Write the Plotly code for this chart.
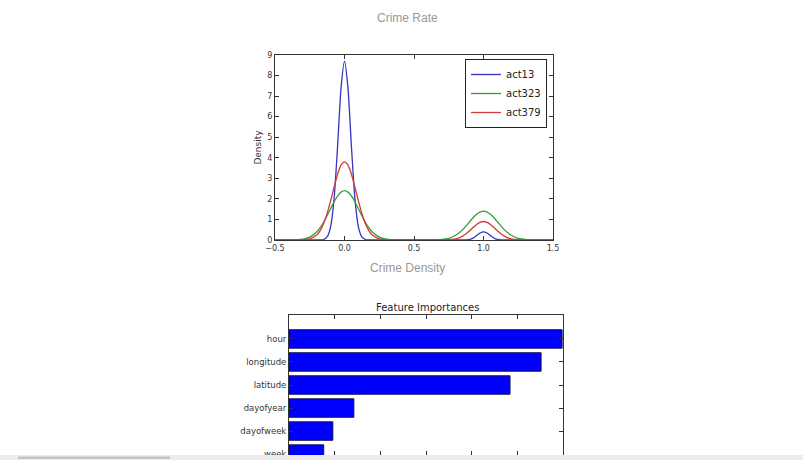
import plotly.graph_objects as go

W, H = 803, 460

# ---- Data: KDE curves ----
kde_x = [-0.5, -0.4, -0.35, -0.3, -0.25, -0.2, -0.175, -0.15, -0.125, -0.1, -0.075, -0.05, -0.025,
         0.0, 0.025, 0.05, 0.075, 0.1, 0.125, 0.15, 0.175, 0.2, 0.25, 0.3, 0.35, 0.4, 0.5,
         0.6, 0.65, 0.7, 0.75, 0.8, 0.825, 0.85, 0.875, 0.9, 0.925, 0.95, 0.975,
         1.0, 1.025, 1.05, 1.075, 1.1, 1.125, 1.15, 1.175, 1.2, 1.25, 1.3, 1.35, 1.4, 1.5]

act13 = [0, 0, 0, 0, 0, 0, 0.003, 0.025, 0.15, 0.64, 2.01, 4.53, 7.39,
         8.7, 7.39, 4.53, 2.01, 0.64, 0.15, 0.025, 0.003, 0, 0, 0, 0, 0, 0,
         0, 0, 0, 0, 0, 0, 0.001, 0.007, 0.03, 0.092, 0.21, 0.34,
         0.4, 0.34, 0.21, 0.092, 0.03, 0.007, 0.001, 0, 0, 0, 0, 0, 0, 0]

act323 = [0, 0.002, 0.009, 0.041, 0.141, 0.391, 0.60, 0.865, 1.18, 1.52, 1.86, 2.14, 2.33,
          2.4, 2.33, 2.14, 1.86, 1.52, 1.18, 0.865, 0.60, 0.391, 0.141, 0.041, 0.009, 0.002, 0,
          0.001, 0.005, 0.024, 0.082, 0.228, 0.35, 0.505, 0.69, 0.89, 1.085, 1.25, 1.36,
          1.4, 1.36, 1.25, 1.085, 0.89, 0.69, 0.505, 0.35, 0.228, 0.082, 0.024, 0.005, 0.001, 0]

act379 = [0, 0, 0.001, 0.0075, 0.05, 0.239, 0.456, 0.80, 1.29, 1.90, 2.57, 3.20, 3.64,
          3.8, 3.64, 3.20, 2.57, 1.90, 1.29, 0.80, 0.456, 0.239, 0.05, 0.0075, 0.001, 0, 0,
          0, 0, 0.002, 0.012, 0.057, 0.108, 0.19, 0.305, 0.45, 0.61, 0.757, 0.86,
          0.9, 0.86, 0.757, 0.61, 0.45, 0.305, 0.19, 0.108, 0.057, 0.012, 0.002, 0, 0, 0]

kde_series = ["act13", "act323", "act379"]
kde_colors = ["#3535c0", "#3a9a3a", "#cc3a3a"]

density_ticks = [0, 1, 2, 3, 4, 5, 6, 7, 8, 9]
crime_ticks = [-0.5, 0.0, 0.5, 1.0, 1.5]

# ---- Data: feature importances ----
features = ["hour", "longitude", "latitude", "dayofyear", "dayofweek", "week"]
importances = [0.299, 0.276, 0.242, 0.071, 0.048, 0.038]
imp_ticks = [0, 0.05, 0.1, 0.15, 0.2, 0.25, 0.3]


def px_x(p):
    return p / W


def px_y(p):
    return 1 - p / H


fig = go.Figure()

for name, ys, col in zip(kde_series, [act13, act323, act379], kde_colors):
    fig.add_trace(go.Scatter(x=kde_x, y=ys, mode="lines", name=name,
                             line=dict(color=col, width=1.3, shape="spline", smoothing=0.6),
                             xaxis="x", yaxis="y"))

fig.add_trace(go.Bar(x=importances, y=features, orientation="h", width=0.8,
                     marker=dict(color="#0000ff", line=dict(color="#101050", width=1)),
                     showlegend=False, xaxis="x2", yaxis="y2"))

tickfont = dict(family="DejaVu Sans", size=8, color="#333")
axis_common = dict(showgrid=False, zeroline=False, showline=True, linecolor="#333", linewidth=1,
                   mirror="ticks", ticks="inside", ticklen=4, tickcolor="#333", tickfont=tickfont,
                   automargin=False)

fig.update_layout(
    width=W, height=H,
    margin=dict(l=0, r=0, t=0, b=0, pad=0),
    paper_bgcolor="white", plot_bgcolor="white",
    xaxis=dict(domain=[px_x(275), px_x(553)], range=[-0.5, 1.5], tickvals=crime_ticks,
               tickformat=".1f", anchor="y", **axis_common),
    yaxis=dict(domain=[px_y(240), px_y(55)], range=[0, 9], tickvals=density_ticks,
               anchor="x", title=dict(text="Density", font=dict(family="DejaVu Sans", size=9, color="#333"),
                                      standoff=4), **axis_common),
    xaxis2=dict(domain=[px_x(289), px_x(563)], range=[0, 0.3], tickvals=imp_ticks,
                showticklabels=False, anchor="y2", **axis_common),
    yaxis2=dict(domain=[px_y(455), px_y(315)], type="category", categoryarray=features,
                range=[5.04, -1.04], anchor="x2",
                **{**axis_common, "tickfont": dict(family="DejaVu Sans", size=8.5, color="#333")}),
    legend=dict(x=px_x(547), y=px_y(59), xanchor="right", yanchor="top",
                bordercolor="#222", borderwidth=1, bgcolor="white",
                font=dict(family="DejaVu Sans", size=10, color="#222"),
                itemwidth=30, tracegroupgap=0),
    showlegend=True,
    annotations=[
        dict(text="Crime Rate", x=px_x(407), y=px_y(18), xref="paper", yref="paper",
             xanchor="center", yanchor="middle",
             showarrow=False, font=dict(family="Liberation Sans", size=12, color="#999")),
        dict(text="Crime Density", x=px_x(407), y=px_y(268), xref="paper", yref="paper",
             xanchor="center", yanchor="middle",
             showarrow=False, font=dict(family="Liberation Sans", size=12, color="#999")),
        dict(text="Feature Importances", x=px_x(427), y=px_y(307), xref="paper", yref="paper",
             xanchor="center", yanchor="middle",
             showarrow=False, font=dict(family="DejaVu Sans", size=10, color="#222")),
    ],
    shapes=[
        dict(type="rect", xref="paper", yref="paper", x0=0, x1=1, y0=0, y1=px_y(455),
             fillcolor="#ececec", line=dict(width=0), layer="above"),
        dict(type="rect", xref="paper", yref="paper", x0=px_x(18), x1=px_x(170), y0=px_y(459),
             y1=px_y(456.5), fillcolor="#c4c4c4", line=dict(width=0), layer="above"),
    ],
)

fig.write_html("out.html", config={"displayModeBar": False},
               post_script="document.body.style.margin='0';")
